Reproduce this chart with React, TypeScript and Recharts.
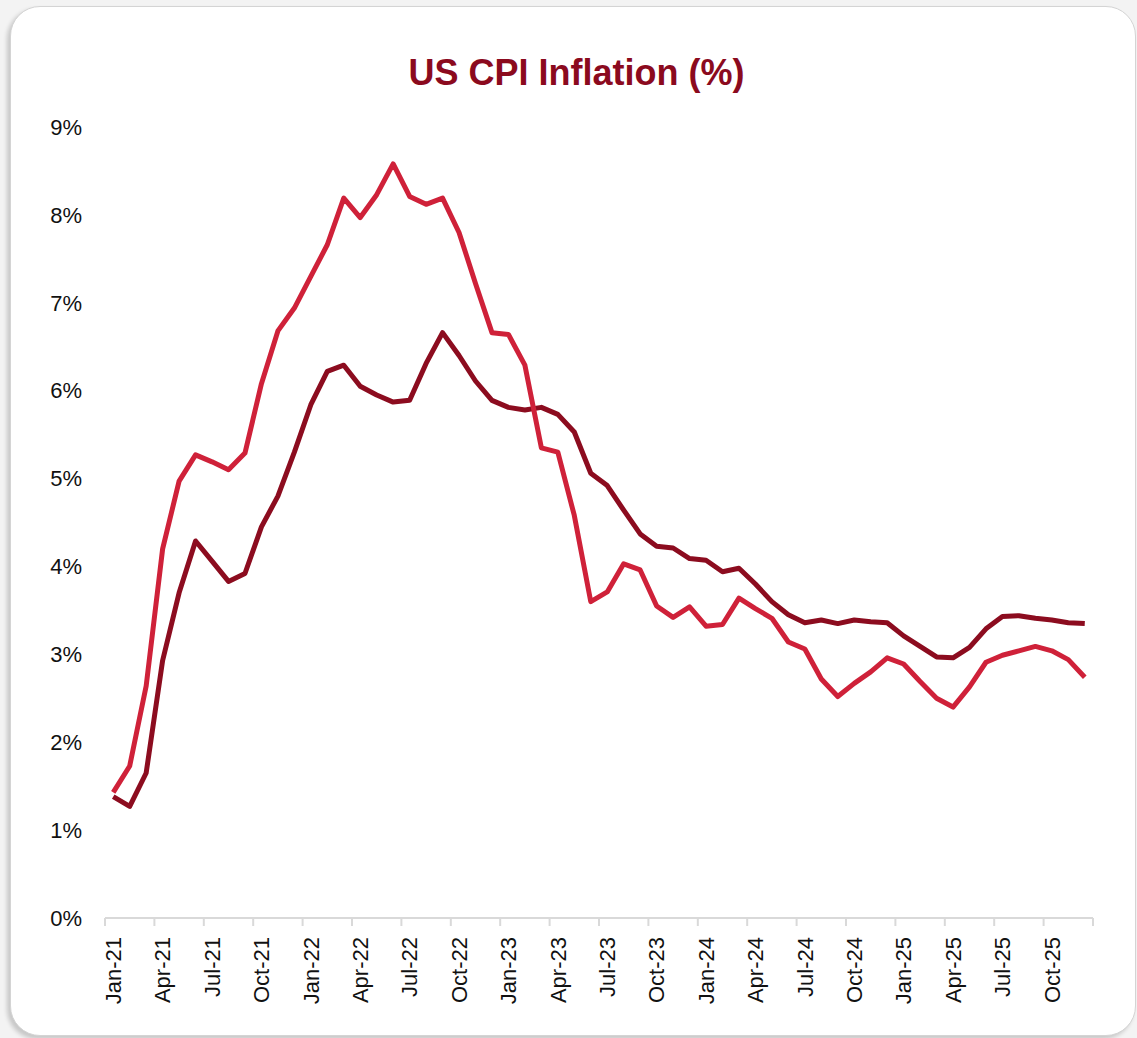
import { LineChart, Line, XAxis, YAxis } from "recharts";

const MONTH_NAMES = ["Jan", "Feb", "Mar", "Apr", "May", "Jun", "Jul", "Aug", "Sep", "Oct", "Nov", "Dec"];
const YEARS = ["21", "22", "23", "24", "25"];
const MONTHS = YEARS.flatMap((y) => MONTH_NAMES.map((m) => `${m}-${y}`));

// headline CPI, y/y %
const HEADLINE = [
  1.43, 1.73, 2.64, 4.2, 4.97, 5.27, 5.19, 5.1, 5.29, 6.08, 6.68, 6.94,
  7.3, 7.66, 8.19, 7.97, 8.23, 8.58, 8.21, 8.12, 8.19, 7.8, 7.22, 6.66,
  6.64, 6.29, 5.35, 5.3, 4.58, 3.6, 3.71, 4.03, 3.96, 3.55, 3.42, 3.54,
  3.32, 3.34, 3.64, 3.52, 3.41, 3.14, 3.06, 2.72, 2.52, 2.67, 2.8, 2.96,
  2.89, 2.69, 2.5, 2.4, 2.63, 2.91, 2.99, 3.04, 3.09, 3.04, 2.94, 2.74,
];

// core CPI, y/y %
const CORE = [
  1.38, 1.27, 1.65, 2.93, 3.7, 4.29, 4.06, 3.83, 3.92, 4.45, 4.8, 5.3,
  5.84, 6.22, 6.29, 6.05, 5.95, 5.87, 5.89, 6.31, 6.66, 6.4, 6.11, 5.89,
  5.81, 5.78, 5.81, 5.73, 5.53, 5.06, 4.92, 4.64, 4.37, 4.23, 4.21, 4.09,
  4.07, 3.94, 3.98, 3.8, 3.6, 3.45, 3.36, 3.39, 3.35, 3.39, 3.37, 3.36,
  3.21, 3.09, 2.97, 2.96, 3.08, 3.29, 3.43, 3.44, 3.41, 3.39, 3.36, 3.35,
];

const Y_TICKS = [0, 1, 2, 3, 4, 5, 6, 7, 8, 9];
const X_TICKS = [0, 3, 6, 9, 12, 15, 18, 21, 24, 27, 30, 33, 36, 39, 42, 45, 48, 51, 54, 57, 60];

const data = MONTHS.map((month, i) => ({
  x: i + 0.5,
  month,
  headline: HEADLINE[i],
  core: CORE[i],
}));

const W = 1137;
const H = 1038;
const PLOT_LEFT = 105;
const PLOT_RIGHT = 1093;
const STEP = (PLOT_RIGHT - PLOT_LEFT) / MONTHS.length;
const FONT = "'Liberation Sans', Arial, sans-serif";

function MonthTick(props: any) {
  const { x, y, payload } = props;
  const label = MONTHS[payload.value];
  const tx = x + STEP / 2;
  const ty = y + 19;
  return (
    <g>
      <line x1={x} y1={y} x2={x} y2={y + 8} stroke="#d9d9d9" strokeWidth={2} />
      {label && (
        <text
          x={tx}
          y={ty}
          dy="0.35em"
          transform={`rotate(-90, ${tx}, ${ty})`}
          textAnchor="end"
          fontSize={22}
          fontFamily={FONT}
          fill="#111"
        >
          {label}
        </text>
      )}
    </g>
  );
}

export default function App() {
  return (
    <div style={{ position: "absolute", left: 0, top: 0, width: W, height: H, background: "#f3f3f3", overflow: "hidden" }}>
      <div
        style={{
          position: "absolute",
          left: 10,
          top: 6,
          width: 1124,
          height: 1028,
          background: "#fff",
          borderRadius: 30,
          border: "1px solid #d4d4d4",
          boxShadow: "-3px 3px 4px rgba(0,0,0,0.18)",
        }}
      />
      <div
        style={{
          position: "absolute",
          left: 0,
          top: 53,
          width: 1153,
          textAlign: "center",
          fontFamily: FONT,
          fontWeight: "bold",
          fontSize: 36,
          lineHeight: "40px",
          color: "#8b0a1e",
        }}
      >
        US CPI Inflation (%)
      </div>
      <div style={{ position: "absolute", left: 0, top: 0 }}>
        <LineChart
          width={W}
          height={H}
          data={data}
          margin={{ top: 127, right: W - PLOT_RIGHT, left: PLOT_LEFT - 60, bottom: 20 }}
        >
          <XAxis
            type="number"
            dataKey="x"
            domain={[0, 60]}
            ticks={X_TICKS}
            interval={0}
            height={100}
            tickSize={0}
            tickMargin={0}
            tickLine={false}
            axisLine={{ stroke: "#d9d9d9", strokeWidth: 2 }}
            tick={<MonthTick />}
          />
          <YAxis
            type="number"
            domain={[0, 9]}
            ticks={Y_TICKS}
            interval={0}
            width={60}
            axisLine={false}
            tickLine={false}
            tickSize={0}
            tickMargin={23}
            tickFormatter={(v: number) => `${v}%`}
            tick={{ fontSize: 22, fontFamily: FONT, fill: "#111" }}
          />
          <Line
            type="linear"
            dataKey="core"
            stroke="#8c0c1f"
            strokeWidth={5}
            strokeLinejoin="round"
            dot={false}
            isAnimationActive={false}
          />
          <Line
            type="linear"
            dataKey="headline"
            stroke="#cf2139"
            strokeWidth={5}
            strokeLinejoin="round"
            dot={false}
            isAnimationActive={false}
          />
        </LineChart>
      </div>
    </div>
  );
}
